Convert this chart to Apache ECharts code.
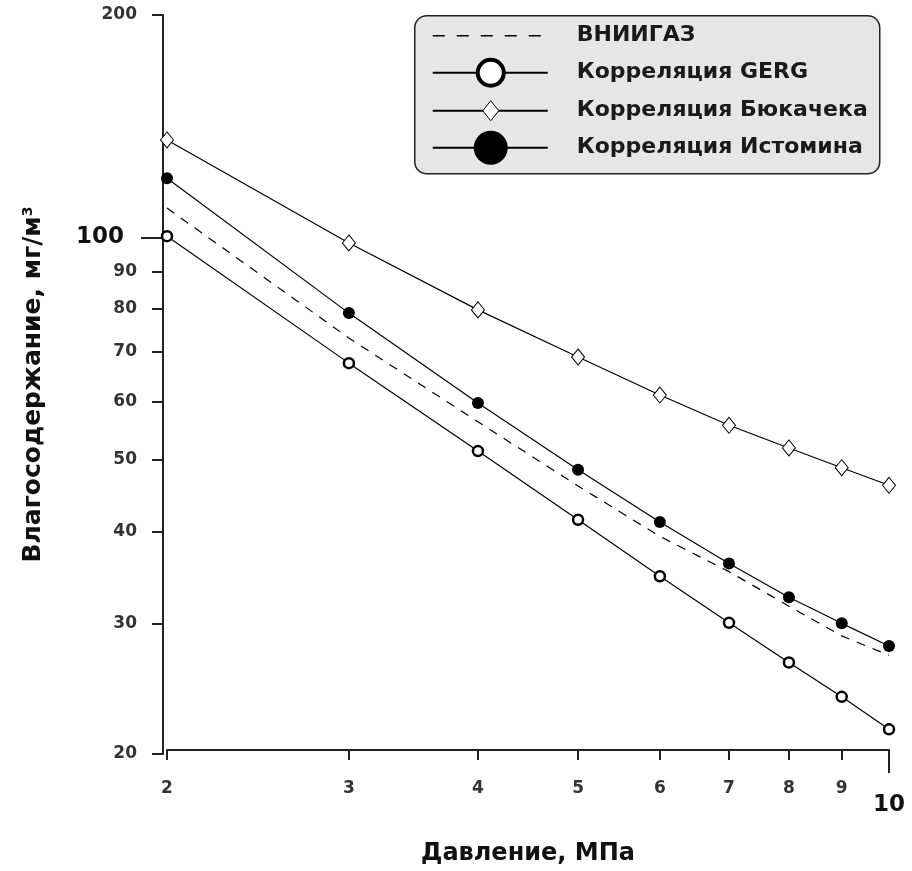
<!DOCTYPE html>
<html lang="ru">
<head>
    <meta charset="UTF-8">
    <title>Влагосодержание</title>
    <script src="https://cdn.jsdelivr.net/npm/echarts@6/dist/echarts.min.js"></script>
    <style>
        html, body { margin: 0; padding: 0; background: #fff; }
        #main { width: 912px; height: 871px; }
    </style>
</head>
<body>
<div id="main"></div>
<script type="text/javascript">
    // давление, МПа
    var pressure = [2, 3, 4, 5, 6, 7, 8, 9, 10];
    // влагосодержание, мг/м3
    var vniigaz = [109.6, 73.1, 56.3, 46.1, 39.4, 35.3, 31.7, 28.9, 27.2];
    var gerg = [100.4, 67.6, 51.4, 41.5, 34.8, 30.1, 26.6, 23.9, 21.6];
    var bukacek = [135.5, 98.3, 79.8, 68.9, 61.2, 55.7, 51.9, 48.8, 46.2];
    var istomin = [120.3, 79.0, 59.7, 48.5, 41.2, 36.2, 32.6, 30.05, 28.0];

    var xTicks = [2, 3, 4, 5, 6, 7, 8, 9, 10];
    var yTicks = [20, 30, 40, 50, 60, 70, 80, 90, 100, 200];
    var xMajor = [10];
    var yMajor = [100];

    var names = ['ВНИИГАЗ', 'Корреляция GERG', 'Корреляция Бюкачека', 'Корреляция Истомина'];

    var FONT = 'DejaVu Sans';

    function pairs(values) {
        return pressure.map(function (p, i) { return [p, values[i]]; });
    }

    var myChart = echarts.init(document.getElementById('main'));

    /* легенда рисуется вручную, чтобы маркеры были разного размера */
    var rowY = [20, 57, 95, 132];
    var legendChildren = [{
        type: 'rect',
        shape: {x: 0, y: 0, width: 465, height: 158, r: 12},
        style: {fill: '#e6e6e6', stroke: '#222', lineWidth: 1.5}
    }];
    rowY.forEach(function (y, i) {
        legendChildren.push({
            type: 'line',
            shape: {x1: 18, y1: y, x2: 133, y2: y},
            style: {stroke: '#000', lineWidth: i === 0 ? 1.5 : 2, lineDash: i === 0 ? [12, 12] : null}
        });
        legendChildren.push({
            type: 'text',
            x: 162, y: y,
            style: {
                text: names[i], fill: '#1a1a1a', font: 'bold 22px "' + FONT + '"',
                verticalAlign: 'middle', align: 'left'
            }
        });
    });
    legendChildren.push({
        type: 'circle', shape: {cx: 76, cy: rowY[1], r: 13},
        style: {fill: '#fff', stroke: '#000', lineWidth: 4}
    });
    legendChildren.push({
        type: 'polygon',
        shape: {points: [[76, rowY[2] - 10], [84, rowY[2]], [76, rowY[2] + 10], [68, rowY[2]]]},
        style: {fill: '#fff', stroke: '#000', lineWidth: 1}
    });
    legendChildren.push({
        type: 'circle', shape: {cx: 76, cy: rowY[3], r: 17},
        style: {fill: '#000'}
    });

    var smallLabel = {fontFamily: FONT, fontWeight: 'bold', fontSize: 17, color: '#333'};

    var option = {
        animation: false,
        backgroundColor: '#fff',
        grid: {left: 167, right: 23, top: 15, bottom: 116},
        xAxis: [{
            type: 'log', logBase: 10, min: 2, max: 10,
            position: 'bottom',
            offset: -4,
            name: 'Давление, МПа',
            nameLocation: 'middle', nameGap: 92,
            nameTextStyle: {fontFamily: FONT, fontWeight: 'bold', fontSize: 24, color: '#111'},
            axisLine: {show: true, lineStyle: {color: '#222', width: 2}},
            axisTick: {show: true, customValues: xTicks, length: 10, lineStyle: {color: '#222', width: 2}},
            axisLabel: {
                customValues: xTicks, margin: 30,
                formatter: function (v) {
                    return v === 10 ? '{b|10}' : '{s|' + v + '}';
                },
                rich: {
                    s: smallLabel,
                    b: {fontFamily: FONT, fontWeight: 'bold', fontSize: 23, color: '#111', padding: [14, 0, 0, 0]}
                }
            },
            splitLine: {show: false}
        }, {
            type: 'log', logBase: 10, min: 2, max: 10,
            position: 'bottom',
            offset: -4,
            axisLine: {show: false},
            axisTick: {show: true, customValues: xMajor, length: 23, lineStyle: {color: '#222', width: 2}},
            axisLabel: {show: false},
            splitLine: {show: false}
        }],
        yAxis: [{
            type: 'log', logBase: 10, min: 20, max: 200,
            position: 'left',
            offset: 4,
            name: 'Влагосодержание, мг/м{sup|3}',
            nameLocation: 'middle', nameGap: 117,
            nameTextStyle: {
                fontFamily: FONT, fontWeight: 'bold', fontSize: 25, color: '#111',
                rich: {sup: {fontFamily: FONT, fontWeight: 'bold', fontSize: 14, color: '#111', verticalAlign: 'top', padding: [0, 0, 10, 0]}}
            },
            axisLine: {show: true, lineStyle: {color: '#222', width: 2}},
            axisTick: {show: true, customValues: yTicks, length: 11, lineStyle: {color: '#222', width: 2}},
            axisLabel: {
                customValues: yTicks, margin: 26,
                formatter: function (v) {
                    return v === 100 ? '{b|100}' : '{s|' + v + '}';
                },
                rich: {
                    s: smallLabel,
                    b: {fontFamily: FONT, fontWeight: 'bold', fontSize: 23, color: '#111', padding: [0, 13, 0, 0]}
                }
            },
            splitLine: {show: false}
        }, {
            type: 'log', logBase: 10, min: 20, max: 200,
            position: 'left',
            offset: 4,
            axisLine: {show: false},
            axisTick: {show: true, customValues: yMajor, length: 22, lineStyle: {color: '#222', width: 2}},
            axisLabel: {show: false},
            splitLine: {show: false}
        }],
        series: [{
            name: names[0], type: 'line', data: pairs(vniigaz),
            symbol: 'none',
            lineStyle: {color: '#000', width: 1.2, type: [9, 8]}
        }, {
            name: names[1], type: 'line', data: pairs(gerg),
            symbol: 'circle', symbolSize: 10,
            lineStyle: {color: '#000', width: 1.2},
            itemStyle: {color: '#fff', borderColor: '#000', borderWidth: 2.5}
        }, {
            name: names[2], type: 'line', data: pairs(bukacek),
            symbol: 'diamond', symbolSize: [13, 16],
            lineStyle: {color: '#000', width: 1.2},
            itemStyle: {color: '#fff', borderColor: '#000', borderWidth: 1}
        }, {
            name: names[3], type: 'line', data: pairs(istomin),
            symbol: 'circle', symbolSize: 12,
            lineStyle: {color: '#000', width: 1.2},
            itemStyle: {color: '#000'}
        }],
        graphic: [{
            type: 'group', left: 414, top: 15,
            children: legendChildren
        }]
    };

    myChart.setOption(option);
</script>
</body>
</html>
